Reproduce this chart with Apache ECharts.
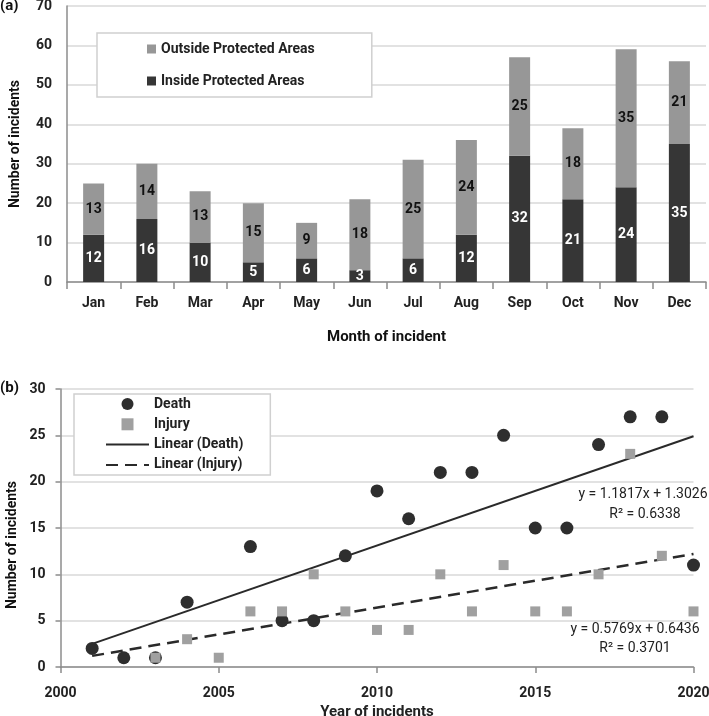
<!DOCTYPE html>
<html><head><meta charset="utf-8">
<script src="https://cdn.jsdelivr.net/npm/echarts@6/dist/echarts.min.js"></script>
<style>html,body{margin:0;padding:0;background:#fff}#c{width:709px;height:716px}</style>
</head><body><div id="c"></div>
<script>
// ---- Data (a) ----
var months = ['Jan','Feb','Mar','Apr','May','Jun','Jul','Aug','Sep','Oct','Nov','Dec'];
var insideAreas = [12,16,10,5,6,3,6,12,32,21,24,35];
var outsideAreas = [13,14,13,15,9,18,25,24,25,18,35,21];
var yTicksA = [0,70,10];
// ---- Data (b) ----
var deathYears = [2001,2002,2003,2004,2006,2007,2008,2009,2010,2011,2012,2013,2014,2015,2016,2017,2018,2019,2020];
var deathValues = [2,1,1,7,13,5,5,12,19,16,21,21,25,15,15,24,27,27,11];
var injuryYears = [2003,2004,2005,2006,2007,2008,2009,2010,2011,2012,2013,2014,2015,2016,2017,2018,2019,2020];
var injuryValues = [1,3,1,6,6,10,6,4,4,10,6,11,6,6,10,23,12,6];
var trendYears = [2001,2020];
var trendDeathEnds = [2.5,24.9];
var trendInjuryEnds = [1.2,12.2];
var eqDeath = ['y = 1.1817x + 1.3026','R² = 0.6338'];
var eqInjury = ['y = 0.5769x + 0.6436','R² = 0.3701'];

var F = "Roboto,'Noto Sans',sans-serif";
function pairs(xs, ys){ return xs.map(function(x,i){return [x, ys[i]];}); }

var chart = echarts.init(document.getElementById('c'), null, {renderer:'canvas'});
chart.setOption({
  animation:false,
  textStyle:{fontFamily:F},
  grid:[
    {left:67, top:6, width:639, height:276, containLabel:false, outerBoundsMode:'none'},
    {left:60.5, top:389, width:633, height:278, containLabel:false, outerBoundsMode:'none'}
  ],
  xAxis:[
    {gridIndex:0, type:'category', data:months,
     name:'Month of incident', nameLocation:'middle', nameGap:48,
     nameTextStyle:{fontFamily:F, fontWeight:'bold', fontSize:15, color:'#111'},
     axisLine:{lineStyle:{color:'#8c8c8c', width:1.5}},
     axisTick:{show:true, length:7, lineStyle:{color:'#8c8c8c', width:1.5}},
     axisLabel:{fontFamily:F, fontWeight:'bold', fontSize:14, color:'#222', margin:14}},
    {gridIndex:1, type:'value', min:2000, max:2020, interval:5,
     name:'Year of incidents', nameLocation:'middle', nameGap:38,
     nameTextStyle:{fontFamily:F, fontWeight:'bold', fontSize:15, color:'#222'},
     splitLine:{show:false},
     axisLine:{onZero:false, lineStyle:{color:'#8c8c8c', width:1.5}},
     axisTick:{show:true, length:6, lineStyle:{color:'#8c8c8c', width:1.5}},
     axisLabel:{fontFamily:F, fontWeight:'bold', fontSize:14, color:'#222', margin:19,
                formatter:function(v){return String(v);}}}
  ],
  yAxis:[
    {gridIndex:0, type:'value', min:yTicksA[0], max:yTicksA[1], interval:yTicksA[2],
     name:'Number of incidents', nameLocation:'middle', nameGap:45,
     nameTextStyle:{fontFamily:F, fontWeight:'bold', fontSize:14, color:'#111'},
     axisLine:{show:true, lineStyle:{color:'#8c8c8c', width:1.5}},
     axisTick:{show:false},
     splitLine:{lineStyle:{color:'#d9d9d9', width:1.5}},
     axisLabel:{fontFamily:F, fontWeight:'bold', fontSize:14, color:'#222', margin:15}},
    {gridIndex:1, type:'value', min:0, max:30, interval:5,
     axisLine:{show:true, lineStyle:{color:'#8c8c8c', width:1.5}},
     axisTick:{show:true, length:5, lineStyle:{color:'#8c8c8c', width:1.5}},
     splitLine:{lineStyle:{color:'#d9d9d9', width:1.5}},
     axisLabel:{fontFamily:F, fontWeight:'bold', fontSize:14, color:'#222', margin:15}}
  ],
  legend:[
    {data:['Outside Protected Areas','Inside Protected Areas'], orient:'vertical',
     left:97, top:33, padding:[9,57,9,50], itemGap:18, itemWidth:9, itemHeight:9,
     borderColor:'#d0d0d0', borderWidth:1.5, backgroundColor:'#fff', icon:'rect',
     textStyle:{fontFamily:F, fontWeight:'bold', fontSize:14, color:'#222'}},
    {data:[
       {name:'Death'},
       {name:'Injury', icon:'path://M0,0L10,0L10,10L0,10Z'},
       {name:'Linear (Death)', itemStyle:{opacity:0}},
       {name:'Linear (Injury)', itemStyle:{opacity:0}}],
     orient:'vertical',
     left:74, top:394, padding:[3,27,3,31], itemGap:6.3, itemWidth:43, itemHeight:12,
     borderColor:'#d0d0d0', borderWidth:1.5, backgroundColor:'#fff',
     textStyle:{fontFamily:F, fontWeight:'bold', fontSize:14, color:'#222'}}
  ],
  series:[
    {name:'Inside Protected Areas', type:'bar', stack:'a', xAxisIndex:0, yAxisIndex:0,
     data:insideAreas, barWidth:21, itemStyle:{color:'#363636'},
     label:{show:true, position:'inside', color:'#fff', fontFamily:F, fontWeight:'bold', fontSize:14}},
    {name:'Outside Protected Areas', type:'bar', stack:'a', xAxisIndex:0, yAxisIndex:0,
     data:outsideAreas, barWidth:21, itemStyle:{color:'#979797'},
     label:{show:true, position:'inside', color:'#111', fontFamily:F, fontWeight:'bold', fontSize:14}},
    {name:'Linear (Death)', type:'line', xAxisIndex:1, yAxisIndex:1, symbol:'none', z:3,
     data:pairs(trendYears, trendDeathEnds), lineStyle:{color:'#2a2a2a', width:2}, itemStyle:{color:'#2a2a2a'}},
    {name:'Linear (Injury)', type:'line', xAxisIndex:1, yAxisIndex:1, symbol:'none', z:3,
     data:pairs(trendYears, trendInjuryEnds), lineStyle:{color:'#2a2a2a', width:2.5, type:[12,7]}, itemStyle:{color:'#2a2a2a'}},
    {name:'Death', type:'scatter', xAxisIndex:1, yAxisIndex:1, symbol:'circle', symbolSize:13, z:4,
     data:pairs(deathYears, deathValues), itemStyle:{color:'#2e2e2e', opacity:1}},
    {name:'Injury', type:'scatter', xAxisIndex:1, yAxisIndex:1, symbol:'rect', symbolSize:10, z:5,
     data:pairs(injuryYears, injuryValues), itemStyle:{color:'#a0a0a0', opacity:1}}
  ],
  graphic:[
    {type:'text', left:0, top:-1, style:{text:'(a)', font:"bold 15px "+F, fill:'#111'}},
    {type:'text', left:0, top:381, style:{text:'(b)', font:"bold 15px "+F, fill:'#111'}},
    {type:'text', x:12, y:545, rotation:Math.PI/2,
     style:{text:'Number of incidents', font:"bold 14px "+F, fill:'#111', align:'center', verticalAlign:'middle'}},
    {type:'text', x:643, y:494, style:{text:eqDeath[0], font:"14px "+F, fill:'#222', align:'center', verticalAlign:'middle'}},
    {type:'text', x:645, y:514, style:{text:eqDeath[1], font:"14px "+F, fill:'#222', align:'center', verticalAlign:'middle'}},
    {type:'text', x:635, y:629, style:{text:eqInjury[0], font:"14px "+F, fill:'#222', align:'center', verticalAlign:'middle'}},
    {type:'text', x:635, y:648, style:{text:eqInjury[1], font:"14px "+F, fill:'#222', align:'center', verticalAlign:'middle'}}
  ]
});
</script></body></html>
